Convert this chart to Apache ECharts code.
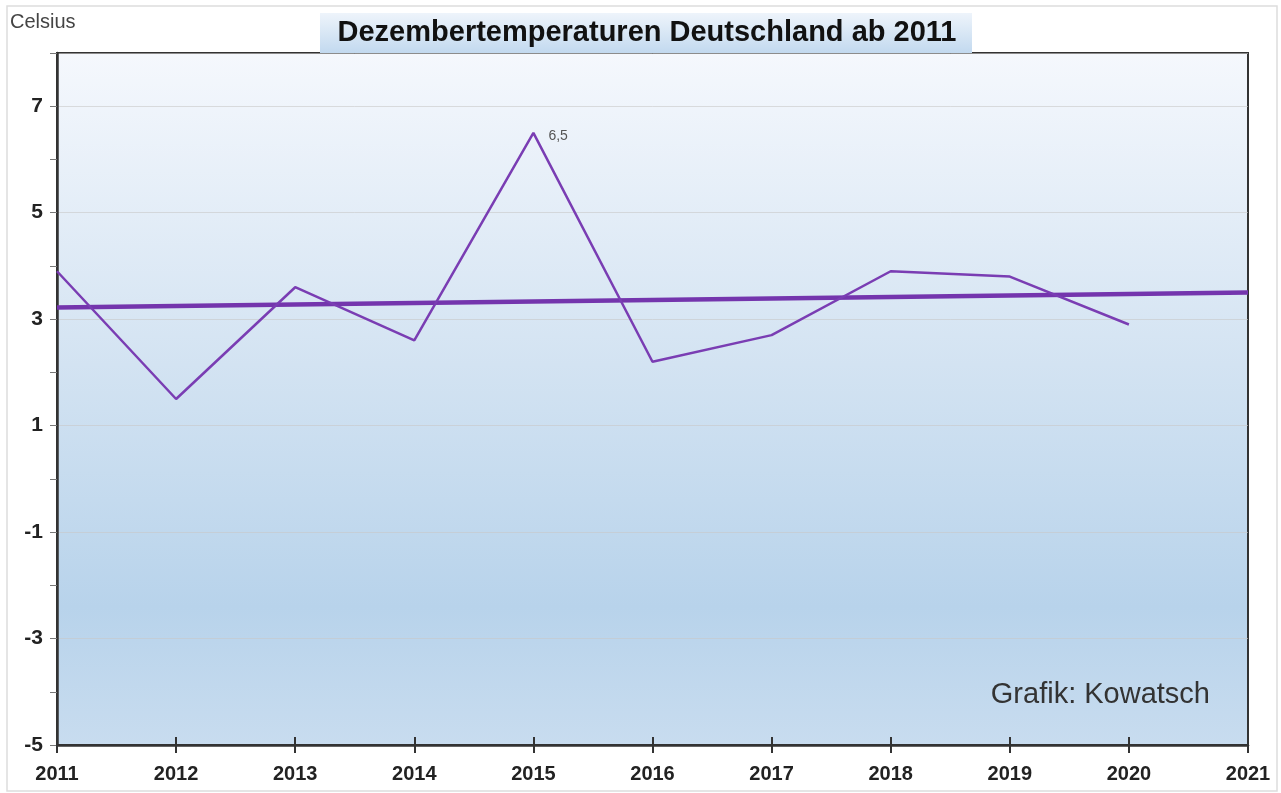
<!DOCTYPE html>
<html>
<head>
<meta charset="utf-8">
<script src="https://cdn.jsdelivr.net/npm/echarts@6/dist/echarts.min.js"></script>
<style>
  html, body { margin: 0; padding: 0; background: #fff; }
  #chart { width: 1281px; height: 793px; }
</style>
</head>
<body>
<div id="chart"></div>
<script>
// Dezembertemperaturen Deutschland
var years = [2011, 2012, 2013, 2014, 2015, 2016, 2017, 2018, 2019, 2020];
var temps = [3.9, 1.5, 3.6, 2.6, 6.5, 2.2, 2.7, 3.9, 3.8, 2.9];
var trendYears = [2011, 2021];
var trendTemps = [3.22, 3.5];
var labelYear = 2015;

var LINE_COLOR = '#7a3db3';

var tempData = years.map(function (y, i) {
  var item = { value: [y, temps[i]] };
  if (y == labelYear) {
    item.label = {
      show: true,
      position: 'right',
      offset: [10, 3],
      formatter: function (p) { return String(p.value[1]).replace('.', ','); },
      fontSize: 14,
      color: '#555',
      fontFamily: 'Liberation Sans'
    };
  }
  return item;
});
var trendData = trendYears.map(function (y, i) { return [y, trendTemps[i]]; });

var myChart = echarts.init(document.getElementById('chart'));

var option = {
  animation: false,
  grid: {
    left: 57, right: 33, top: 53, bottom: 48,
    show: true,
    borderColor: '#333',
    borderWidth: 2,
    backgroundColor: {
      type: 'linear', x: 0, y: 0, x2: 0, y2: 1,
      colorStops: [
        { offset: 0, color: '#f5f8fd' },
        { offset: 0.45, color: '#d3e3f2' },
        { offset: 0.8, color: '#b8d3eb' },
        { offset: 1, color: '#c8dcef' }
      ]
    }
  },
  xAxis: [{
    type: 'value',
    min: 2011, max: 2021, interval: 1,
    axisLine: { show: true, onZero: false, lineStyle: { color: '#333', width: 2.5 } },
    axisTick: { show: true, length: 8, lineStyle: { color: '#333', width: 2 } },
    axisLabel: {
      margin: 19,
      fontSize: 20, fontWeight: 'bold', color: '#222',
      fontFamily: 'Liberation Sans',
      formatter: function (v) { return String(v); }
    },
    splitLine: { show: false }
  }, {
    type: 'value',
    position: 'bottom',
    min: 2011, max: 2021, interval: 1,
    axisLine: { show: false, onZero: false },
    axisTick: { show: true, inside: true, length: 8, lineStyle: { color: '#333', width: 2 } },
    axisLabel: { show: false },
    splitLine: { show: false }
  }],
  yAxis: {
    type: 'value',
    min: -5, max: 8, interval: 2,
    axisLine: { show: true, onZero: false, lineStyle: { color: '#333', width: 2.5 } },
    axisTick: { show: true, length: 7, lineStyle: { color: '#777', width: 1 } },
    minorTick: { show: true, splitNumber: 2, length: 7, lineStyle: { color: '#777', width: 1 } },
    axisLabel: {
      margin: 14,
      showMaxLabel: false,
      fontSize: 21, fontWeight: 'bold', color: '#222',
      fontFamily: 'Liberation Sans'
    },
    splitLine: { show: true, lineStyle: { color: 'rgba(200,200,200,0.6)', width: 1 } }
  },
  series: [{
    name: 'Dezember',
    type: 'line',
    data: tempData,
    showSymbol: true,
    symbol: 'circle',
    symbolSize: 0,
    lineStyle: { color: LINE_COLOR, width: 2.5 },
    itemStyle: { color: LINE_COLOR },
    z: 3
  }, {
    name: 'Trend',
    type: 'line',
    data: trendData,
    showSymbol: false,
    symbol: 'none',
    lineStyle: { color: '#7435ad', width: 4.5 },
    z: 2
  }],
  graphic: [{
    type: 'rect',
    shape: { x: 7, y: 6, width: 1270, height: 785 },
    style: { fill: 'none', stroke: '#ddd', lineWidth: 1.5 },
    silent: true
  }, {
    type: 'text',
    left: 10, top: 12,
    style: { text: 'Celsius', fontSize: 20, fill: '#444', fontFamily: 'Liberation Sans' }
  }, {
    type: 'rect',
    shape: { x: 320, y: 13, width: 652, height: 40 },
    style: {
      fill: {
        type: 'linear', x: 0, y: 0, x2: 0, y2: 1,
        colorStops: [
          { offset: 0, color: '#eef4fb' },
          { offset: 1, color: '#c2d9ef' }
        ]
      }
    },
    z: 10
  }, {
    type: 'text',
    x: 647, y: 33,
    style: {
      text: 'Dezembertemperaturen Deutschland ab 2011',
      fontSize: 29, fontWeight: 'bold', fill: '#111',
      fontFamily: 'Liberation Sans',
      align: 'center', verticalAlign: 'middle'
    },
    z: 11
  }, {
    type: 'text',
    x: 1210, y: 695,
    style: {
      text: 'Grafik: Kowatsch', fontSize: 29, fill: '#333', fontFamily: 'Liberation Sans',
      align: 'right', verticalAlign: 'middle'
    },
    z: 11
  }]
};

myChart.setOption(option);
</script>
</body>
</html>
